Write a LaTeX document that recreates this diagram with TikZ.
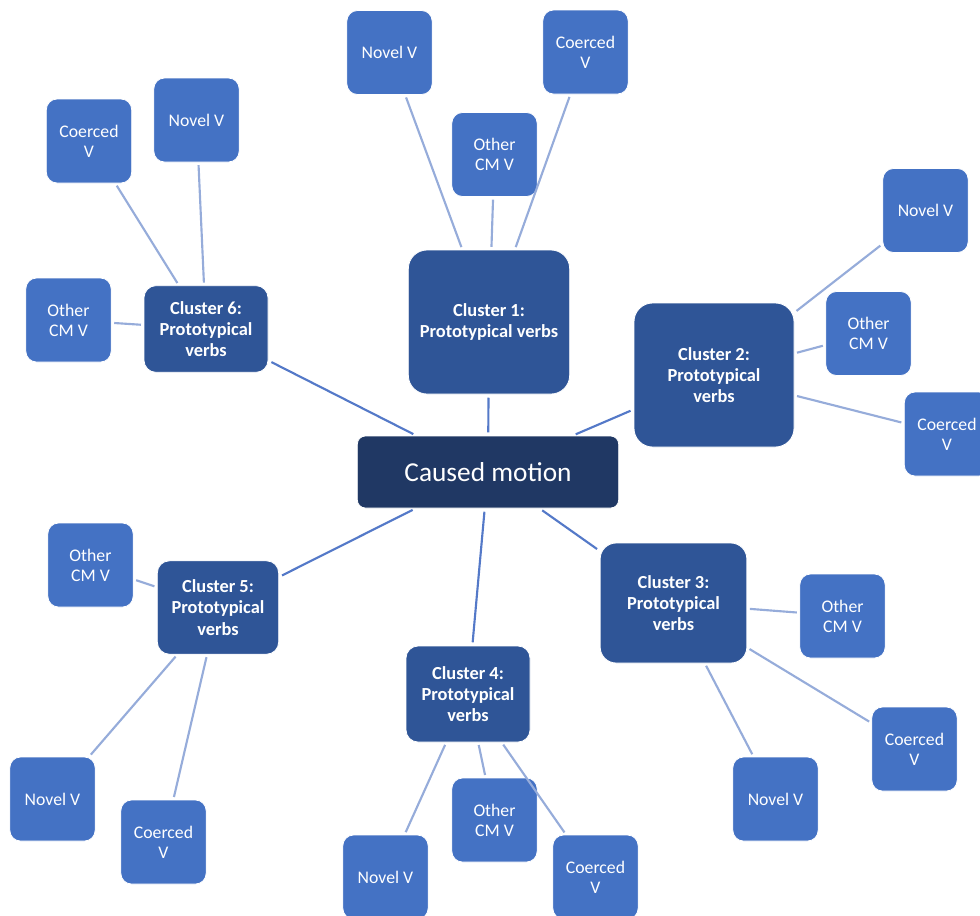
\documentclass[tikz,border=0pt]{standalone}
\usepackage{fontspec}
\setmainfont{Carlito}
\usetikzlibrary{positioning}

\definecolor{navy}{RGB}{32,56,100}
\definecolor{clusterblue}{RGB}{47,85,151}
\definecolor{leafblue}{RGB}{68,114,196}
\definecolor{spoke}{RGB}{84,121,200}
\definecolor{twig}{RGB}{150,172,218}

\begin{document}
\begin{tikzpicture}[
    x=0.75pt, y=-0.75pt,
    main node/.style={rectangle, rounded corners=6pt, fill=navy, draw=white, line width=0.6pt, text=white, font=\fontsize{20.5}{24}\selectfont, minimum width=196pt, minimum height=54pt},
    cluster node/.style={rectangle, rounded corners=9pt, fill=clusterblue, draw=white, line width=0.6pt, text=white, align=center, font=\fontsize{13.8}{16}\selectfont\bfseries},
    verb node/.style={rectangle, rounded corners=8pt, fill=leafblue, draw=white, line width=0.6pt, text=white, align=center, minimum width=64pt, minimum height=63pt, font=\fontsize{13.3}{15}\selectfont},
    spoke/.style={draw=spoke, line width=1.6pt, shorten >=2.5pt, shorten <=2.5pt},
    twig/.style={draw=twig, line width=1.6pt, shorten >=2pt, shorten <=2pt}
]
    \clip (0,0) rectangle (980,915);

    % Nodes
    \node[main node] (M) at (488,472) {Caused motion};

    \node[cluster node, rounded corners=14pt, minimum width=121pt, minimum height=108pt] (C1) at (489,322) {Cluster 1:\\Prototypical verbs};
    \node[cluster node, rounded corners=14pt, minimum width=120pt, minimum height=108pt] (C2) at (714,375) {Cluster 2:\\Prototypical\\verbs};
    \node[cluster node, rounded corners=12pt, minimum width=110pt, minimum height=90pt] (C3) at (673.5,603) {Cluster 3:\\Prototypical\\verbs};
    \node[cluster node, minimum width=93pt, minimum height=72pt] (C4) at (468,694) {Cluster 4:\\Prototypical\\verbs};
    \node[cluster node, minimum width=91pt, minimum height=70pt] (C5) at (218,607.5) {Cluster 5:\\Prototypical\\verbs};
    \node[cluster node, minimum width=93pt, minimum height=65pt] (C6) at (206,329) {Cluster 6:\\Prototypical\\verbs};

    \node[verb node] (N1) at (389.5,52.5) {Novel V};
    \node[verb node] (O1) at (494.5,154.5) {Other\\CM V};
    \node[verb node] (K1) at (585.5,52) {Coerced\\V};

    \node[verb node] (N2) at (925.5,210.5) {Novel V};
    \node[verb node] (O2) at (868.5,333.5) {Other\\CM V};
    \node[verb node] (K2) at (947,434) {Coerced\\V};

    \node[verb node] (O3) at (842.5,616) {Other\\CM V};
    \node[verb node] (K3) at (914.5,749) {Coerced\\V};
    \node[verb node] (N3) at (775.5,799) {Novel V};

    \node[verb node] (N4) at (385.5,877) {Novel V};
    \node[verb node] (O4) at (494.5,820) {Other\\CM V};
    \node[verb node] (K4) at (595.5,877) {Coerced\\V};

    \node[verb node] (O5) at (90.5,565) {Other\\CM V};
    \node[verb node] (N5) at (52.5,799) {Novel V};
    \node[verb node] (K5) at (163.5,842) {Coerced\\V};

    \node[verb node] (K6) at (89,141) {Coerced\\V};
    \node[verb node] (N6) at (196.5,120) {Novel V};
    \node[verb node] (O6) at (68.5,320) {Other\\CM V};

    % Edges
    \draw[spoke] (M) -- (C1);
    \draw[spoke] (M) -- (C2);
    \draw[spoke] (M) -- (C3);
    \draw[spoke] (M) -- (C4);
    \draw[spoke] (M) -- (C5);
    \draw[spoke] (M) -- (C6);

    \draw[twig] (C1) -- (N1);
    \draw[twig] (C1) -- (O1);
    \draw[twig] (C1) -- (K1);
    \draw[twig] (C2) -- (N2);
    \draw[twig] (C2) -- (O2);
    \draw[twig] (C2) -- (K2);
    \draw[twig] (C3) -- (O3);
    \draw[twig] (C3) -- (K3);
    \draw[twig] (C3) -- (N3);
    \draw[twig] (C4) -- (N4);
    \draw[twig] (C4) -- (O4);
    \draw[twig] (C4) -- (K4);
    \draw[twig] (C5) -- (O5);
    \draw[twig] (C5) -- (N5);
    \draw[twig] (C5) -- (K5);
    \draw[twig] (C6) -- (K6);
    \draw[twig] (C6) -- (N6);
    \draw[twig] (C6) -- (O6);
\end{tikzpicture}
\end{document}
